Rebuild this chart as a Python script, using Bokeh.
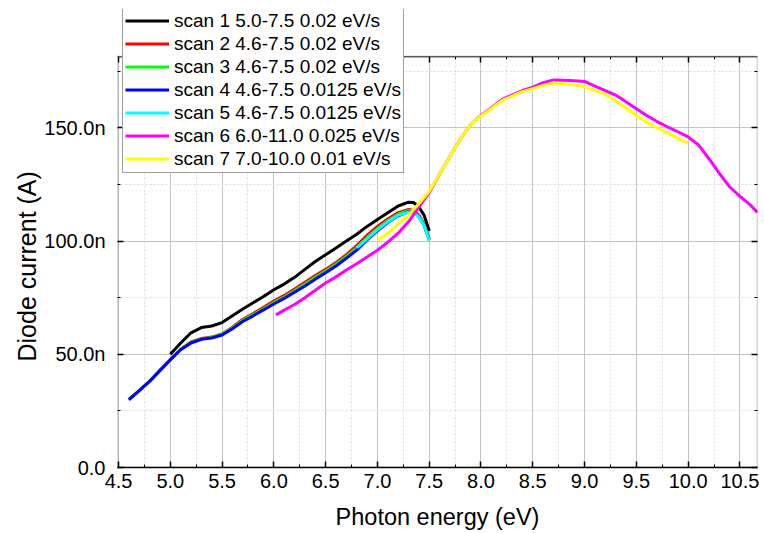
from bokeh.plotting import figure
from bokeh.models import (Range1d, LinearAxis, FixedTicker, CustomJSTickFormatter,
                          NumeralTickFormatter, BoxAnnotation, Title)
from bokeh.embed import file_html
from bokeh.resources import INLINE

# ---- data (photon energy in eV, diode current in nA) ----
e1 = [5.00, 5.10, 5.20, 5.30, 5.40, 5.50, 5.60, 5.70, 5.80, 5.90, 6.00, 6.10, 6.20, 6.30,
      6.40, 6.50, 6.60, 6.70, 6.80, 6.90, 7.00, 7.10, 7.20, 7.30, 7.35, 7.40, 7.45, 7.50]
i1 = [50.0, 55.0, 59.5, 61.8, 62.5, 64.0, 67.0, 70.0, 72.8, 75.5, 78.5, 81.0, 84.0, 87.5,
      91.0, 94.0, 97.0, 100.0, 103.0, 106.5, 109.5, 112.5, 115.5, 117.2, 117.0, 115.0, 111.5, 104.5]

e2 = [4.60, 4.70, 4.80, 4.90, 5.00, 5.10, 5.20, 5.30, 5.40, 5.50, 5.60, 5.70, 5.80, 5.90,
      6.00, 6.10, 6.20, 6.30, 6.40, 6.50, 6.60, 6.70, 6.80, 6.90, 7.00, 7.10, 7.20, 7.30,
      7.35, 7.40, 7.45, 7.50]
i2 = [30.0, 34.0, 38.2, 43.0, 47.8, 52.2, 55.5, 57.0, 57.6, 59.0, 62.0, 65.5, 68.0, 70.8,
      73.5, 76.0, 78.8, 81.8, 84.8, 87.5, 90.5, 94.0, 98.0, 102.5, 106.5, 109.8, 112.6, 114.0,
      113.5, 111.5, 107.5, 101.0]

e3 = e2
i3 = [30.0, 34.0, 38.1, 42.9, 47.6, 52.1, 55.2, 56.8, 57.4, 58.8, 61.6, 65.0, 67.5, 70.2,
      72.8, 75.3, 78.1, 81.0, 84.0, 86.8, 89.8, 93.2, 97.0, 101.5, 105.5, 109.0, 111.9, 113.5,
      113.2, 111.2, 107.2, 100.8]

e4 = e2
i4 = [30.0, 34.0, 38.0, 42.8, 47.5, 52.0, 55.0, 56.6, 57.2, 58.5, 61.3, 64.5, 67.0, 69.6,
      72.2, 74.7, 77.4, 80.2, 83.2, 86.0, 89.0, 92.4, 96.0, 100.5, 104.5, 108.2, 111.2, 113.0,
      113.0, 111.0, 107.0, 100.5]

e5 = [6.80, 6.90, 7.00, 7.10, 7.20, 7.30, 7.35, 7.40, 7.45, 7.50]
i5 = [97.0, 101.0, 105.0, 108.5, 111.4, 112.8, 112.6, 110.8, 107.0, 100.3]

e6 = [6.02, 6.10, 6.20, 6.30, 6.40, 6.50, 6.60, 6.70, 6.80, 6.90, 7.00, 7.10, 7.20, 7.30,
      7.40, 7.50, 7.60, 7.70, 7.80, 7.90, 8.00, 8.10, 8.20, 8.30, 8.40, 8.50, 8.60, 8.70,
      8.80, 8.90, 9.00, 9.10, 9.20, 9.30, 9.40, 9.50, 9.60, 9.70, 9.80, 9.90, 10.00, 10.10,
      10.20, 10.30, 10.40, 10.50, 10.60, 10.67]
i6 = [67.4, 69.5, 72.0, 75.0, 78.3, 81.5, 84.2, 87.2, 90.0, 93.0, 96.0, 99.5, 103.5, 108.5,
      115.0, 121.5, 129.5, 137.5, 145.0, 151.5, 155.5, 158.8, 162.5, 164.5, 166.5, 168.0, 170.0, 171.2,
      171.0, 170.8, 170.5, 168.5, 166.5, 164.5, 161.5, 158.5, 155.5, 152.8, 150.5, 148.3, 146.0, 142.5,
      136.5, 130.0, 124.0, 119.8, 116.0, 112.7]

e7 = [7.00, 7.10, 7.20, 7.30, 7.40, 7.50, 7.60, 7.70, 7.80, 7.90, 8.00, 8.10, 8.20, 8.30,
      8.40, 8.50, 8.60, 8.70, 8.80, 8.90, 9.00, 9.10, 9.20, 9.30, 9.40, 9.50, 9.60, 9.70,
      9.80, 9.90, 10.00]
i7 = [100.3, 103.5, 107.5, 111.5, 116.5, 122.0, 129.5, 137.5, 145.0, 151.5, 155.3, 158.5, 162.0, 164.0,
      166.0, 167.3, 168.8, 169.8, 169.5, 169.0, 168.2, 166.5, 164.8, 162.0, 158.8, 155.5, 152.5, 150.0,
      147.8, 145.5, 143.2]

labels = ["scan 1 5.0-7.5 0.02 eV/s", "scan 2 4.6-7.5 0.02 eV/s", "scan 3 4.6-7.5 0.02 eV/s",
          "scan 4 4.6-7.5 0.0125 eV/s", "scan 5 4.6-7.5 0.0125 eV/s",
          "scan 6 6.0-11.0 0.025 eV/s", "scan 7 7.0-10.0 0.01 eV/s"]
colors = ["#000000", "#ff0000", "#00ff00", "#0000ff", "#00ffff", "#ff00ff", "#ffff00"]

x_ticks = [4.5, 5.0, 5.5, 6.0, 6.5, 7.0, 7.5, 8.0, 8.5, 9.0, 9.5, 10.0, 10.5]
x_minor = [4.75, 5.25, 5.75, 6.25, 6.75, 7.25, 7.75, 8.25, 8.75, 9.25, 9.75, 10.25]
y_ticks = [0, 50, 100, 150]
y_minor = [25, 75, 125, 175]
y_tick_labels = {0: "0.0", 50: "50.0n", 100: "100.0n", 150: "150.0n"}

X_MIN, X_MAX = 4.49, 10.67
Y_MIN, Y_MAX = 0.0, 181.5      # axis box of the chart
Y_VIEW_MAX = 202.3             # extra room above the box so the legend can overlap the top edge

FONT = "Liberation Sans"

p = figure(width=764, height=533, output_backend="svg", toolbar_location=None,
           x_range=Range1d(X_MIN, X_MAX), y_range=Range1d(Y_MIN, Y_VIEW_MAX),
           min_border_left=117, min_border_right=7, min_border_top=9, min_border_bottom=66,
           x_axis_label="Photon energy (eV)")
p.background_fill_color = "white"
p.border_fill_color = "white"
p.outline_line_color = None

xt = FixedTicker(ticks=x_ticks, minor_ticks=x_minor)
yt = FixedTicker(ticks=y_ticks, minor_ticks=y_minor)

bottom_ax = p.below[0]
left_ax = p.left[0]
bottom_ax.ticker = xt
bottom_ax.formatter = NumeralTickFormatter(format="0.0")
left_ax.ticker = yt

blank = CustomJSTickFormatter(code="return ''")
top_ax = LinearAxis(ticker=xt, formatter=blank, fixed_location=Y_MAX)
right_ax = LinearAxis(ticker=yt, formatter=blank)
p.add_layout(top_ax, "above")
p.add_layout(right_ax, "right")

for ax in [bottom_ax, left_ax, top_ax, right_ax]:
    ax.axis_line_color = "black"
    ax.axis_line_width = 1.5
    ax.major_tick_in = 6
    ax.major_tick_out = 0
    ax.minor_tick_in = 3
    ax.minor_tick_out = 0
    ax.major_tick_line_color = "black"
    ax.minor_tick_line_color = "black"
    ax.major_tick_line_width = 1.5
    ax.minor_tick_line_width = 1
    ax.major_label_text_font = FONT
    ax.major_label_text_color = "black"
    ax.major_label_text_font_size = "20px"
    ax.axis_label_text_font = FONT
    ax.axis_label_text_font_style = "normal"
    ax.axis_label_text_font_size = "23.5px"
    ax.axis_label_text_color = "black"

left_ax.axis_line_color = None
right_ax.axis_line_color = None
for ax in [top_ax, right_ax]:
    ax.major_label_standoff = 0

bottom_ax.major_label_standoff = 6
bottom_ax.axis_label_standoff = 13
left_ax.major_label_standoff = 12
left_ax.major_label_overrides = y_tick_labels

# y-axis title, placed along the axis box (anchored from the bottom of the view)
ytitle = Title(text="Diode current (A)", align="left", offset=106, standoff=2,
               text_font=FONT, text_font_size="25px", text_font_style="normal",
               text_color="black")
p.add_layout(ytitle, "left")

p.xgrid.ticker = xt
p.ygrid.ticker = yt
for g in [p.xgrid[0], p.ygrid[0]]:
    g.grid_line_color = "#c4c4c4"
    g.grid_line_width = 1
    g.minor_grid_line_color = "#dcdcdc"
    g.minor_grid_line_dash = "2 2"
    g.minor_grid_line_width = 1

series = [(e1, i1), (e2, i2), (e3, i3), (e4, i4), (e5, i5), (e6, i6), (e7, i7)]
for (xs, ys), lab, col in zip(series, labels, colors):
    p.line(xs, ys, line_color=col, line_width=3, legend_label=lab)

# white mask above the axis box, then the axis box outline
mask = BoxAnnotation(bottom=Y_MAX, fill_color="white", fill_alpha=1.0, line_alpha=0,
                     level="annotation")
box = BoxAnnotation(left=X_MIN, right=X_MAX, bottom=Y_MIN, top=Y_MAX, fill_alpha=0,
                    line_color="black", line_width=1.5, level="annotation")
p.add_layout(mask)
p.add_layout(box)

lg = p.legend[0]
lg.level = "overlay"
lg.location = (5, 294)
lg.padding = 2
lg.margin = 0
lg.spacing = 0
lg.glyph_width = 44
lg.glyph_height = 23
lg.label_height = 23
lg.label_standoff = 5
lg.label_text_font = FONT
lg.label_text_font_size = "19px"
lg.label_text_color = "black"
lg.border_line_color = "#404040"
lg.border_line_width = 1
lg.background_fill_color = "white"
lg.background_fill_alpha = 1.0

open("out.html", "w").write(file_html(p, INLINE))
